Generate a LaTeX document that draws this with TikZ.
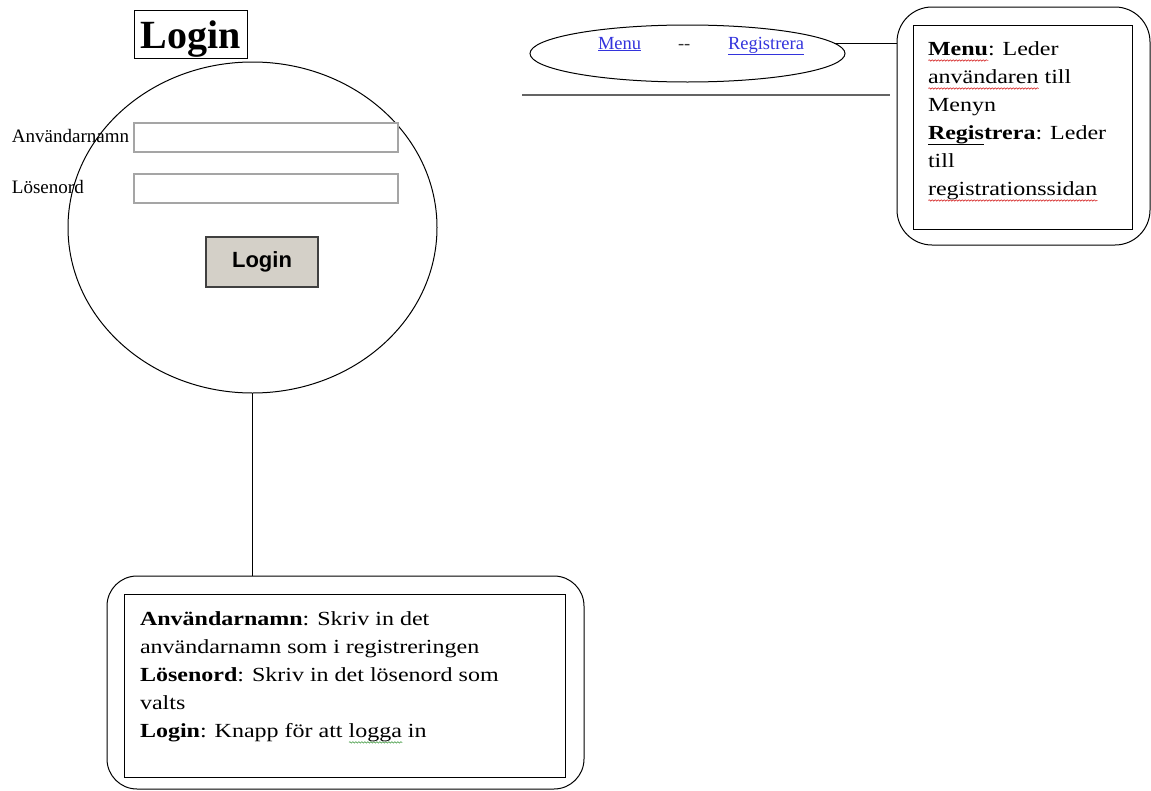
\documentclass[tikz,border=0pt]{standalone}
\usepackage{fontspec}
\setmainfont{Liberation Serif}
\newfontfamily\notefont{Liberation Serif}[FakeStretch=1.2]
\newfontfamily\btnfont{Liberation Sans}
\usetikzlibrary{shapes.geometric,decorations.pathmorphing}

\definecolor{linkblue}{RGB}{51,51,220}
\definecolor{btnface}{RGB}{212,208,200}
\definecolor{fieldgray}{RGB}{165,165,165}
\definecolor{rulegray}{RGB}{100,100,100}
\definecolor{squigred}{RGB}{215,50,50}
\definecolor{squiggreen}{RGB}{60,150,60}

% spell-check style wavy underline
\newlength\squiglen
\newcommand\squig[2]{\settowidth\squiglen{#2}\leavevmode\rlap{\raisebox{-0.32em}{\tikz\draw[#1,line width=0.6pt,decorate,decoration={snake,amplitude=0.7pt,segment length=3pt}] (0pt,0pt)--(\squiglen,0pt);}}#2}
% plain partial underline
\newlength\ulen
\newcommand\partul[2]{\settowidth\ulen{#1}\leavevmode\rlap{\rule[-0.3em]{\ulen}{0.9pt}}#2}

\begin{document}
\begin{tikzpicture}[x=1pt,y=-1pt,
  every node/.style={inner sep=0pt,outer sep=0pt},
  thin/.style={line width=1pt},
  field/.style={draw=fieldgray,line width=1.6pt,fill=white},
  label/.style={anchor=base west,font=\fontsize{19}{22}\selectfont},
  link/.style={anchor=base west,text=linkblue,font=\fontsize{18.5}{22}\selectfont},
  notetext/.style={anchor=base west,align=left,font=\notefont\fontsize{20}{28}\selectfont},
  outerbox/.style={draw,line width=1pt},
  innerbox/.style={draw,line width=1pt}]
\useasboundingbox (0,0) rectangle (1151,790);

% page heading
\node[draw,thin,minimum width=113pt,minimum height=48pt,text height=38pt,text depth=10pt,
      font=\bfseries\fontsize{40}{44}\selectfont] (title) at (190.5,34) {Login};

% login form area
\node[ellipse,draw,thin,minimum width=369pt,minimum height=331pt] (screen) at (252.5,227.5) {};
\node[label] (lbluser) at (12,142) {Användarnamn};
\node[label] (lblpass) at (12,193) {Lösenord};
\node[field,minimum width=264pt,minimum height=29pt] (userfield) at (266,137.5) {};
\node[field,minimum width=264pt,minimum height=29pt] (passfield) at (266,188.5) {};
\node[draw=black!75,line width=1.6pt,fill=btnface,minimum width=112pt,minimum height=50pt,
      font=\btnfont\bfseries\fontsize{22}{24}\selectfont] (loginbtn) at (262,262) {Login};

% navigation bar
\node[ellipse,draw,thin,minimum width=315pt,minimum height=57pt] (menubar) at (687.5,53.5) {};
\node[link] (menulink) at (598,49) {\underline{Menu}};
\node[anchor=base west,font=\fontsize{18.5}{22}\selectfont,text=black!80] (navsep) at (678,49) {-{}-};
\node[link] (reglink) at (728,49) {\underline{Registrera}};
\coordinate (ruleL) at (522,95);
\coordinate (ruleR) at (890,95);
\draw[rulegray,line width=2pt] (ruleL) -- (ruleR);

% note for the navigation bar (anchored at the baseline of its last line)
\node[outerbox,rounded corners=35pt,minimum width=253pt,minimum height=238pt] (menunoteout) at (1023.5,126) {};
\node[innerbox,minimum width=219pt,minimum height=204pt] (menunote) at (1022.5,127) {};
\node[notetext] (menutext) at (928,195) {%
\squig{squigred}{\textbf{Menu}}: Leder\\
\squig{squigred}{användaren} till\\
Menyn\\
\partul{\textbf{Regis}}{\textbf{Registrera}}: Leder\\
till\\
\squig{squigred}{registrationssidan}};
\draw[thin] (menubar.4) -- (menubar.4 -| menunoteout.west);

% note for the login form (anchored at the baseline of its last line)
\node[outerbox,rounded corners=30pt,minimum width=477pt,minimum height=213pt] (loginnoteout) at (345.5,682.5) {};
\node[innerbox,minimum width=441pt,minimum height=183pt] (loginnote) at (344.5,685.5) {};
\node[notetext] (logintext) at (140,737) {%
\textbf{Användarnamn}: Skriv in det\\
användarnamn som i registreringen\\
\textbf{Lösenord}: Skriv in det lösenord som\\
valts\\
\textbf{Login}: Knapp för att \squig{squiggreen}{logga} in};
\draw[thin] (screen.south) -- (screen.south |- loginnoteout.north);
\end{tikzpicture}
\end{document}
